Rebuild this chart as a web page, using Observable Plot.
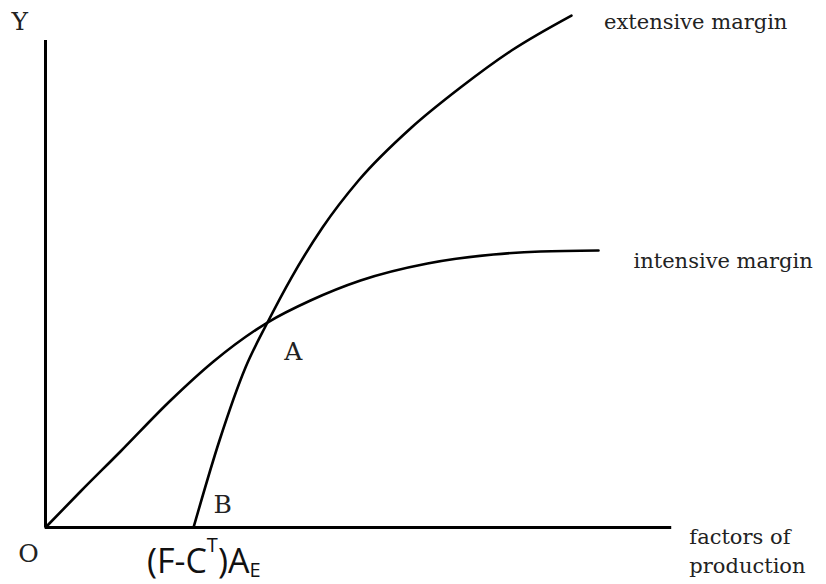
<!DOCTYPE html>
<html><head><meta charset="utf-8">
<script src="https://cdn.jsdelivr.net/npm/d3@7"></script>
<script src="https://cdn.jsdelivr.net/npm/@observablehq/plot@0.6"></script>
<style>html,body{margin:0;padding:0;background:#fff;}</style>
</head><body><div id="chart"></div>
<script>
// Intensive margin curve (factors of production -> Y)
const intensiveX = [0, 4.76, 10.20, 17.01, 22.86, 30.20, 36.05, 42.86, 51.97, 60.95, 67.35, 75.24];
const intensiveY = [0, 7.39, 15.61, 26.08, 34.09, 42.09, 46.61, 50.72, 54.21, 56.06, 56.67, 56.88];
// Extensive margin curve
const extensiveX = [20.14, 23.67, 27.21, 30.20, 33.47, 37.69, 42.59, 49.80, 56.46, 63.40, 71.56];
const extensiveY = [0, 17.86, 32.85, 42.09, 51.33, 61.60, 71.25, 82.14, 90.35, 97.95, 105.13];

// Axis extents
const yAxisTop = 100;
const xAxisEnd = 85.2;

// Single-letter point labels
const letterText = ["Y", "O", "B", "A"];
const letterX = [-3.5, -2.3, 24.1, 33.7];
const letterY = [103.7, -5.5, 4.7, 36.1];

// Curve / axis names
const nameText = ["extensive margin", "intensive margin", "factors of\nproduction"];
const nameX = [76.0, 80.0, 87.6];
const nameY = [104.3, 55.1, -4.48];

// Axis-point label (F-C^T)A_E
const pointLabel = "(F-CT)AE";
const pointLabelX = 13.8;
const pointLabelY = -7.2;

const toRows = (xs, ys) => xs.map((x, i) => ({x, y: ys[i]}));
const intensive = toRows(intensiveX, intensiveY);
const extensive = toRows(extensiveX, extensiveY);
const letters = letterText.map((t, i) => ({t, x: letterX[i], y: letterY[i]}));
const names = nameText.map((t, i) => ({t, x: nameX[i], y: nameY[i]}));

const chart = Plot.plot({
  width: 826,
  height: 584,
  marginLeft: 45,
  marginRight: 46,
  marginTop: 40,
  marginBottom: 57,
  x: {domain: [0, 100], axis: null},
  y: {domain: [0, 100], axis: null},
  style: {background: "#fff", overflow: "visible"},
  marks: [
    Plot.ruleX([0], {y1: 0, y2: yAxisTop, stroke: "#000", strokeWidth: 3}),
    Plot.ruleY([0], {x1: 0, x2: xAxisEnd, stroke: "#000", strokeWidth: 3}),
    Plot.line(intensive, {x: "x", y: "y", curve: "monotone-x", stroke: "#000", strokeWidth: 2.6}),
    Plot.line(extensive, {x: "x", y: "y", curve: "monotone-x", stroke: "#000", strokeWidth: 2.6}),
    Plot.text(letters, {x: "x", y: "y", text: "t", textAnchor: "middle",
      fontFamily: "DejaVu Serif", fontSize: 25, fill: "#222"}),
    Plot.text(names, {x: "x", y: "y", text: "t", textAnchor: "start",
      fontFamily: "DejaVu Serif", fontSize: 21, fill: "#222", lineHeight: 1.38}),
    Plot.text([{t: pointLabel, x: pointLabelX, y: pointLabelY}], {x: "x", y: "y", text: "t", textAnchor: "start",
      fontFamily: "Open Sans", fontSize: 34, fill: "#111"})
  ]
});

// Render superscript T and subscript E in the axis-point label
d3.select(chart).selectAll("text").each(function() {
  if (this.textContent === pointLabel) {
    const el = d3.select(this);
    el.text(null);
    el.append("tspan").text("(F-C");
    el.append("tspan").attr("font-size", 20).attr("dy", -21).text("T");
    el.append("tspan").attr("dy", 21).text(")A");
    el.append("tspan").attr("font-size", 20).attr("dy", 4).text("E");
  }
});

document.getElementById("chart").appendChild(chart);
</script>
</body></html>
